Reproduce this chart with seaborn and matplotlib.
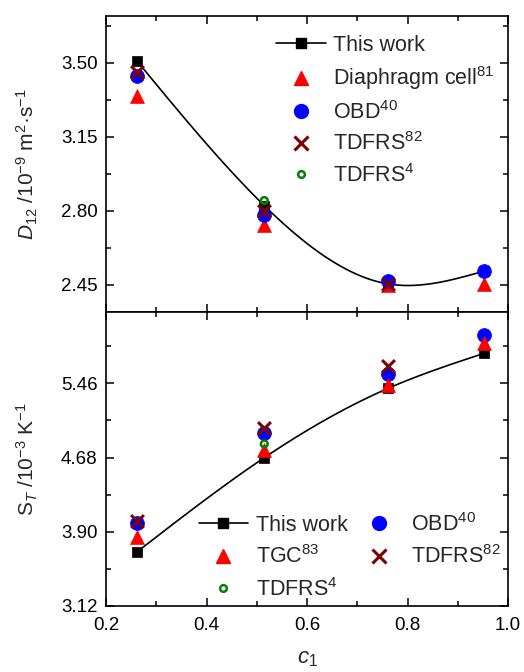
import numpy as np
import pandas as pd
import matplotlib
matplotlib.use("Agg")
import matplotlib.pyplot as plt
from matplotlib.lines import Line2D
from matplotlib.ticker import MultipleLocator, FixedLocator
import seaborn as sns

# ---------------- data ----------------
c1 = [0.261, 0.515, 0.761, 0.952]

# top panel: D12 / 1e-9 m^2 s^-1
d_this = [3.511, 2.825, 2.455, 2.515]
d_diaphragm = [3.345, 2.732, 2.450, 2.453]
d_obd = [3.439, 2.781, 2.470, 2.518]
c_tdfrs82_d = [0.261, 0.515, 0.761]
d_tdfrs82 = [3.459, 2.800, 2.455]
c_tdfrs4 = [0.515]
d_tdfrs4 = [2.849]

# bottom panel: ST / 1e-3 K^-1
s_this = [3.686, 4.679, 5.407, 5.775]
s_tgc = [3.843, 4.760, 5.442, 5.880]
s_obd = [3.990, 4.935, 5.558, 5.967]
c_tdfrs82_s = [0.261, 0.515, 0.761]
s_tdfrs82 = [4.017, 4.987, 5.645]
s_tdfrs4 = [4.823]

d_ticks = [2.45, 2.80, 3.15, 3.50]
s_ticks = [3.12, 3.90, 4.68, 5.46]
x_ticks = [0.2, 0.4, 0.6, 0.8, 1.0]


def natural_spline(x, y, xs):
    x = np.asarray(x, float); y = np.asarray(y, float)
    n = len(x); h = np.diff(x)
    A = np.zeros((n, n)); r = np.zeros(n)
    A[0, 0] = 1; A[-1, -1] = 1
    for i in range(1, n - 1):
        A[i, i - 1] = h[i - 1]; A[i, i] = 2 * (h[i - 1] + h[i]); A[i, i + 1] = h[i]
        r[i] = 3 * ((y[i + 1] - y[i]) / h[i] - (y[i] - y[i - 1]) / h[i - 1])
    c = np.linalg.solve(A, r)
    b = (y[1:] - y[:-1]) / h - h * (2 * c[:-1] + c[1:]) / 3
    d = (c[1:] - c[:-1]) / (3 * h)
    idx = np.clip(np.searchsorted(x, xs) - 1, 0, n - 2)
    dx = xs - x[idx]
    return y[idx] + b[idx] * dx + c[idx] * dx ** 2 + d[idx] * dx ** 3


sns.set_theme(style="ticks")
plt.rcParams["font.family"] = ["Liberation Sans", "DejaVu Sans"]
plt.rcParams["mathtext.fontset"] = "custom"
plt.rcParams["mathtext.rm"] = "Liberation Sans"
plt.rcParams["mathtext.it"] = "Liberation Sans:italic"
plt.rcParams["mathtext.bf"] = "Liberation Sans:bold"

FS = 13.5      # tick labels
LFS = 15.5     # legend
AFS = 15.0     # axis labels
fig = plt.figure(figsize=(5.24, 6.72), dpi=100)
W = 1 / 524; H = 1 / 672
ax1 = fig.add_axes([106 * W, 1 - 312 * H, 402 * W, 296 * H])
ax2 = fig.add_axes([106 * W, 1 - 606 * H, 402 * W, 294 * H])

RED = "#ff0000"; BLUE = "#0000ff"; DRED = "#800000"; GREEN = "#008000"
ms_sq, ms_tri, ms_circ, ms_x = 58, 100, 100, 85


def draw(ax, y_this, y_red, y_obd, cx82, y82, y4, red_first):
    xs = np.linspace(c1[0], c1[-1], 200)
    ys = natural_spline(c1, y_this, xs)
    sns.lineplot(x=xs, y=ys, ax=ax, color="black", lw=1.2, sort=False, zorder=2)
    sns.scatterplot(x=c1, y=y_this, ax=ax, marker="s", s=ms_sq, color="black",
                    edgecolor="black", linewidth=0.5, zorder=3)
    def red():
        sns.scatterplot(x=c1, y=y_red, ax=ax, marker="^", s=ms_tri, color=RED,
                        edgecolor=RED, linewidth=0.5, zorder=4)
    def obd():
        sns.scatterplot(x=c1, y=y_obd, ax=ax, marker="o", s=ms_circ, color=BLUE,
                        edgecolor=BLUE, linewidth=0.5, zorder=4)
    if red_first:
        red(); obd()
    else:
        obd(); red()
    sns.scatterplot(x=cx82, y=y82, ax=ax, marker="x", s=ms_x, color=DRED,
                    linewidth=2.2, zorder=5)
    sns.scatterplot(x=c_tdfrs4, y=y4, ax=ax, marker="o", s=24, facecolor="none",
                    edgecolor=GREEN, linewidth=1.8, zorder=6)


draw(ax1, d_this, d_diaphragm, d_obd, c_tdfrs82_d, d_tdfrs82, d_tdfrs4, True)
draw(ax2, s_this, s_tgc, s_obd, c_tdfrs82_s, s_tdfrs82, s_tdfrs4, False)

for ax in (ax1, ax2):
    ax.set_xlim(0.2, 1.0)
    ax.xaxis.set_major_locator(FixedLocator(x_ticks))
    ax.xaxis.set_minor_locator(MultipleLocator(0.1))
    ax.tick_params(which="both", direction="in", top=True, right=True,
                   width=1.1, labelsize=FS, colors="black")
    ax.tick_params(axis="y", pad=6)
    ax.tick_params(axis="x", pad=8)
    ax.tick_params(which="major", length=6)
    ax.tick_params(which="minor", length=3.5)
    for sp in ax.spines.values():
        sp.set_linewidth(1.2)
        sp.set_color("black")
        sp.set_visible(True)
    ax.set_xlabel("")

ax1.set_ylim(2.322, 3.722)
ax1.yaxis.set_major_locator(FixedLocator(d_ticks))
ax1.yaxis.set_minor_locator(MultipleLocator(0.175))
ax1.set_yticklabels([f"{v:.2f}" for v in d_ticks])
ax1.tick_params(labelbottom=False)

ax2.set_ylim(3.12, 6.21)
ax2.yaxis.set_major_locator(FixedLocator(s_ticks))
ax2.yaxis.set_minor_locator(MultipleLocator(0.39))
ax2.set_yticklabels([f"{v:.2f}" for v in s_ticks])
ax2.set_xticklabels([f"{v:.1f}" for v in x_ticks])

ax1.set_ylabel(r"$D_{12}$ /10$^{-9}$ m$^{2}$·s$^{-1}$", fontsize=AFS)
ax2.set_ylabel(r"S$_{T}$ /10$^{-3}$ K$^{-1}$", fontsize=AFS)
ax2.set_xlabel(r"$c_{1}$", fontsize=AFS + 1)
ax1.yaxis.set_label_coords(-0.165, 0.5)
ax2.yaxis.set_label_coords(-0.165, 0.5)
ax2.xaxis.set_label_coords(0.5, -0.215)
ax2.xaxis.label.set_va("bottom")


def handles(labels):
    h = {
        "this": Line2D([], [], color="black", lw=1.2, marker="s", ms=7.5, mfc="black", mec="black"),
        "red": Line2D([], [], ls="none", marker="^", ms=10, mfc=RED, mec=RED),
        "obd": Line2D([], [], ls="none", marker="o", ms=10, mfc=BLUE, mec=BLUE),
        "x82": Line2D([], [], ls="none", marker="x", ms=9.5, mec=DRED, mew=2.2),
        "t4": Line2D([], [], ls="none", marker="o", ms=4.8, mfc="none", mec=GREEN, mew=1.8),
    }
    return [h[k] for k in labels]


leg1 = ax1.legend(handles(["this", "red", "obd", "x82", "t4"]),
                  ["This work", "Diaphragm cell$^{81}$", "OBD$^{40}$", "TDFRS$^{82}$", "TDFRS$^{4}$"],
                  loc="upper right", bbox_to_anchor=(1.0, 0.98), frameon=False, fontsize=LFS,
                  handlelength=2.3, handletextpad=0.35, labelspacing=0.4, borderaxespad=0.2)

leg2 = ax2.legend(handles(["this", "red", "t4", "obd", "x82"]),
                  ["This work", "TGC$^{83}$", "TDFRS$^{4}$", "OBD$^{40}$", "TDFRS$^{82}$"],
                  ncol=2, loc="lower right", bbox_to_anchor=(1.0035, -0.0116), frameon=False,
                  fontsize=LFS, handlelength=2.3, handletextpad=0.35, labelspacing=0.45,
                  columnspacing=0.3, borderaxespad=0.0)

fig.savefig("out.png", dpi=100, facecolor="white")
